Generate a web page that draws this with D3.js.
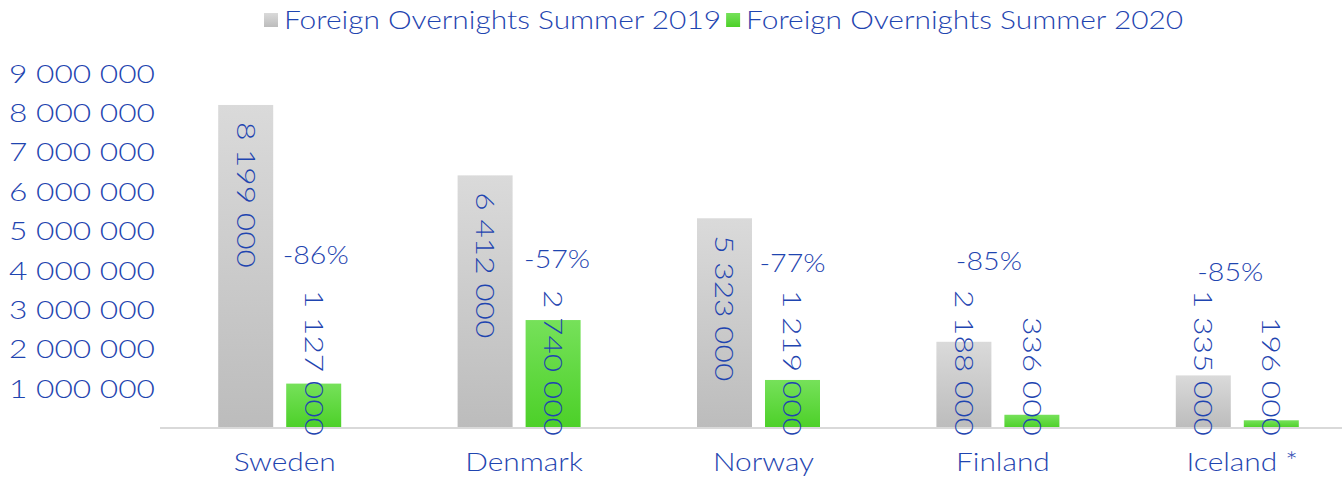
<!DOCTYPE html>
<html>
<head>
<meta charset="utf-8">
<script src="https://cdn.jsdelivr.net/npm/d3@7"></script>
<style>
  body { margin: 0; background: #fff; }
  text { font-family: "Century Gothic", Lato, "DejaVu Sans", sans-serif; fill: #1f45b0; font-size: 26px; font-weight: 300; }
</style>
</head>
<body>
<script>
var countries = ["Sweden", "Denmark", "Norway", "Finland", "Iceland *"];
var summer2019 = [8199000, 6412000, 5323000, 2188000, 1335000];
var summer2020 = [1127000, 2740000, 1219000, 336000, 196000];
var seriesNames = ["Foreign Overnights Summer 2019", "Foreign Overnights Summer 2020"];
var yTicks = [1000000, 2000000, 3000000, 4000000, 5000000, 6000000, 7000000, 8000000, 9000000];

// where the change labels sit (value height, x shift from category center)
var changeLabelY = [4400000, 4300000, 4200000, 4250000, 3950000];
var changeLabelDx = [36, 38, 34, -9, -7];

var width = 1342, height = 478;
var numStretch = 1.22, wordStretch = 1.15, pctStretch = 1.1; // widen Lato toward Century Gothic

var svg = d3.select("body").append("svg")
	.attr("width", width)
	.attr("height", height);

var defs = svg.append("defs");
function grad(id, c1, c2) {
	var g = defs.append("linearGradient").attr("id", id)
		.attr("x1", 0).attr("y1", 0).attr("x2", 0).attr("y2", 1);
	g.append("stop").attr("offset", "0%").attr("stop-color", c1);
	g.append("stop").attr("offset", "100%").attr("stop-color", c2);
}
grad("gGray", "#dadada", "#bcbcbc");
grad("gGreen", "#76e15a", "#4cd028");

var x = d3.scaleBand()
	.domain(countries)
	.range([160, 1357]);

var y = d3.scaleLinear()
	.domain([0, 9000000])
	.range([428, 73.4]);

var fmt = function (v) { return d3.format(",")(v).replace(/,/g, " "); };
function put(sel, px, py, sx, rot) {
	sel.attr("transform", "translate(" + px + "," + py + ")" + (rot ? " rotate(" + rot + ")" : "") + " scale(" + sx + ",1)");
}

// y tick labels
svg.append("g").selectAll("text")
	.data(yTicks)
	.enter().append("text")
	.attr("dy", "0.35em")
	.attr("text-anchor", "end")
	.text(fmt)
	.each(function (d) { put(d3.select(this), 155, y(d), numStretch); });

var barW = 55, gap = 13;
var rows = countries.map(function (c, i) {
	return { c: c, v19: summer2019[i], v20: summer2020[i], i: i };
});

function barX(d, k) {
	var cx = x(d.c) + x.bandwidth() / 2;
	return k === 0 ? cx - gap / 2 - barW : cx + gap / 2;
}

var bars = svg.append("g");
[["v19", "url(#gGray)"], ["v20", "url(#gGreen)"]].forEach(function (s, k) {
	bars.selectAll(".b" + k)
		.data(rows)
		.enter().append("rect")
		.attr("class", "b" + k)
		.attr("x", function (d) { return barX(d, k); })
		.attr("width", barW)
		.attr("y", function (d) { return y(d[s[0]]); })
		.attr("height", function (d) { return y(0) - y(d[s[0]]); })
		.attr("fill", s[1]);
});

// axis line
svg.append("line")
	.attr("x1", 160).attr("x2", width)
	.attr("y1", y(0)).attr("y2", y(0))
	.attr("stroke", "#d9d9d9")
	.attr("stroke-width", 2);

// rotated value labels
var labels = svg.append("g");
["v19", "v20"].forEach(function (key, k) {
	rows.forEach(function (d) {
		var cx = barX(d, k) + barW / 2;
		var t = labels.append("text")
			.attr("dy", "0.35em")
			.text(fmt(d[key]));
		var len = t.node().getComputedTextLength() * numStretch;
		var start = Math.min(y(d[key]) + 17, 436 - len);
		put(t, cx, start, numStretch, 90);
	});
});

// change labels
svg.append("g").selectAll("text")
	.data(rows)
	.enter().append("text")
	.attr("dy", "0.35em")
	.attr("text-anchor", "middle")
	.text(function (d) { return d3.format(".0%")(d.v20 / d.v19 - 1).replace("\u2212", "-"); })
	.each(function (d) {
		put(d3.select(this), x(d.c) + x.bandwidth() / 2 + changeLabelDx[d.i], y(changeLabelY[d.i]), pctStretch);
	});

// category labels
svg.append("g").selectAll("text")
	.data(countries)
	.enter().append("text")
	.attr("dy", "0.35em")
	.attr("text-anchor", "middle")
	.text(function (d) { return d; })
	.each(function (d) { put(d3.select(this), x(d) + x.bandwidth() / 2 + 5, 462, wordStretch); });

// legend
var leg = svg.append("g");
var lx = 264;
seriesNames.forEach(function (n, k) {
	leg.append("rect")
		.attr("x", lx).attr("y", 13)
		.attr("width", 14).attr("height", 14)
		.attr("fill", k === 0 ? "url(#gGray)" : "url(#gGreen)");
	var t = leg.append("text")
		.attr("dy", "0.35em")
		.text(n);
	put(t, lx + 20, 20, wordStretch);
	lx = lx + 20 + t.node().getComputedTextLength() * wordStretch + 5;
});
</script>
</body>
</html>
